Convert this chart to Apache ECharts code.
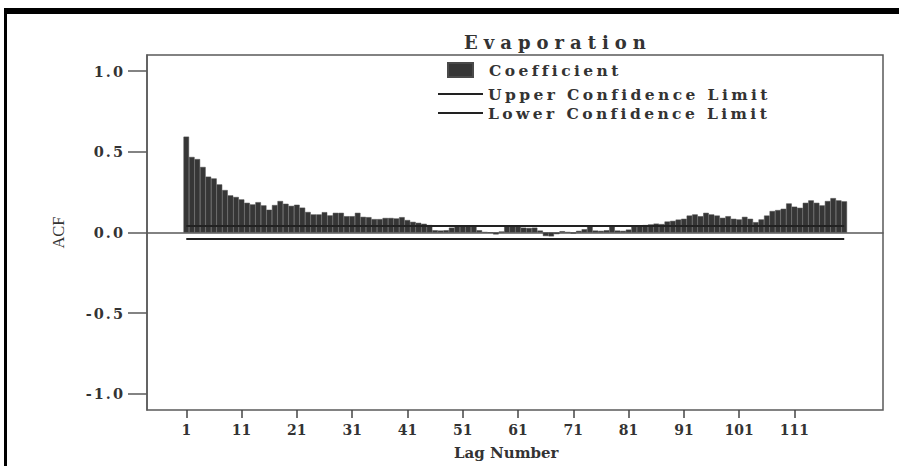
<!DOCTYPE html>
<html>
<head>
<meta charset="utf-8">
<script src="https://cdn.jsdelivr.net/npm/echarts@6/dist/echarts.min.js"></script>
<style>
html,body{margin:0;padding:0;background:#fff;}
#wrap{position:relative;width:899px;height:466px;overflow:hidden;}
#chart{position:absolute;left:0;top:0;width:899px;height:466px;}
#frame{position:absolute;left:4px;top:8px;right:0;bottom:-10px;border-top:6px solid #000;border-left:3px solid #000;pointer-events:none;}
#chart text[style*="18px"]{letter-spacing:6px;}
#chart text[style*="15.5px"]{letter-spacing:3.4px;}
#chart text[style*="14.5px"]{letter-spacing:2px;}
</style>
</head>
<body>
<div id="wrap">
  <div id="chart"></div>
  <div id="frame"></div>
</div>
<script>
// ---- data ----
const lags = ['1','2','3','4','5','6','7','8','9','10',
  '11','12','13','14','15','16','17','18','19','20',
  '21','22','23','24','25','26','27','28','29','30',
  '31','32','33','34','35','36','37','38','39','40',
  '41','42','43','44','45','46','47','48','49','50',
  '51','52','53','54','55','56','57','58','59','60',
  '61','62','63','64','65','66','67','68','69','70',
  '71','72','73','74','75','76','77','78','79','80',
  '81','82','83','84','85','86','87','88','89','90',
  '91','92','93','94','95','96','97','98','99','100',
  '101','102','103','104','105','106','107','108','109','110',
  '111','112','113','114','115','116','117','118','119','120'];

const acf = [
  0.594, 0.468, 0.455, 0.406, 0.346, 0.335, 0.298, 0.263, 0.230, 0.220,
  0.205, 0.184, 0.174, 0.188, 0.168, 0.141, 0.170, 0.195, 0.178, 0.165,
  0.172, 0.154, 0.127, 0.112, 0.112, 0.126, 0.106, 0.122, 0.122, 0.101,
  0.101, 0.122, 0.097, 0.095, 0.083, 0.083, 0.090, 0.090, 0.087, 0.095,
  0.077, 0.066, 0.060, 0.054, 0.046, 0.014, 0.012, 0.014, 0.030, 0.042,
  0.040, 0.044, 0.038, 0.014, 0.002, 0.000, -0.012, 0.006, 0.038, 0.042,
  0.036, 0.030, 0.028, 0.030, 0.012, -0.022, -0.024, -0.010, 0.008, 0.002,
  -0.006, 0.010, 0.020, 0.038, 0.012, 0.010, 0.014, 0.036, 0.012, 0.010,
  0.018, 0.036, 0.040, 0.046, 0.050, 0.055, 0.052, 0.068, 0.072, 0.080,
  0.085, 0.105, 0.112, 0.101, 0.122, 0.112, 0.105, 0.091, 0.101, 0.085,
  0.081, 0.097, 0.085, 0.064, 0.081, 0.105, 0.133, 0.139, 0.147, 0.180,
  0.160, 0.153, 0.184, 0.199, 0.184, 0.168, 0.195, 0.213, 0.199, 0.193];

const limitLags = ['1', '120'];
const upperLimit = [0.04, 0.04];
const lowerLimit = [-0.04, -0.04];
const yTicks = [-1, -0.5, 0, 0.5, 1];

// ---- chart ----
const serif = "'DejaVu Serif', serif";
const axisGray = '#5a5a5a';
const chart = echarts.init(document.getElementById('chart'), null, {renderer: 'svg', width: 899, height: 466});

const legendText = {fontFamily: serif, fontWeight: 'bold', fontSize: 15.5, color: '#333'};

chart.setOption({
  animation: false,
  title: {
    text: 'Evaporation', left: 558, top: 33, padding: 0, textAlign: 'center',
    textStyle: {fontFamily: serif, fontWeight: 'bold', fontSize: 18, color: '#333'}
  },
  legend: [
    {data: ['Coefficient'], left: 447, top: 62, padding: 0, itemWidth: 25, itemHeight: 14,
     icon: 'rect', selectedMode: false, textStyle: Object.assign({padding: [0, 0, 0, 11]}, legendText)},
    {data: ['Upper Confidence Limit'], left: 438, top: 86, padding: 0, itemWidth: 45, itemHeight: 2,
     icon: 'rect', selectedMode: false, textStyle: legendText},
    {data: ['Lower Confidence Limit'], left: 438, top: 105, padding: 0, itemWidth: 45, itemHeight: 2,
     icon: 'rect', selectedMode: false, textStyle: legendText}
  ],
  grid: [
    {left: 147, top: 55, width: 736, height: 355, show: true, borderColor: axisGray, borderWidth: 1.5, backgroundColor: 'transparent'},
    {left: 183.5, top: 55, width: 663.5, height: 355}
  ],
  xAxis: [
    {gridIndex: 0, type: 'value', min: 0, max: 1,
     axisLine: {show: true, onZero: true, lineStyle: {color: axisGray, width: 1.5}},
     axisTick: {show: false}, axisLabel: {show: false}, splitLine: {show: false}},
    {gridIndex: 1, type: 'category', data: lags, boundaryGap: true,
     name: 'Lag Number', nameLocation: 'middle', nameGap: 35,
     nameTextStyle: {fontFamily: serif, fontWeight: 'bold', fontSize: 15, color: '#333', padding: [0, 18, 0, 0]},
     axisLine: {show: false, onZero: false},
     axisTick: {show: true, interval: 9, alignWithLabel: true, length: 8, lineStyle: {color: '#444', width: 1.5}},
     axisLabel: {interval: 9, margin: 13, fontFamily: serif, fontWeight: 'bold', fontSize: 14, color: '#333'},
     splitLine: {show: false}}
  ],
  yAxis: [
    {gridIndex: 0, type: 'value', min: -1.1, max: 1.1,
     name: 'ACF', nameLocation: 'middle', nameGap: 80,
     nameTextStyle: {fontFamily: "'Liberation Serif', serif", fontSize: 16.5, color: '#333'},
     axisLine: {show: true, onZero: false, lineStyle: {color: axisGray, width: 1.5}},
     axisTick: {show: true, length: 19, customValues: yTicks, lineStyle: {color: axisGray, width: 1.5}},
     axisLabel: {customValues: yTicks, formatter: v => v.toFixed(1), margin: 22,
       fontFamily: serif, fontWeight: 'bold', fontSize: 14.5, color: '#333'},
     splitLine: {show: false}},
    {gridIndex: 1, type: 'value', min: -1.1, max: 1.1, show: false, splitLine: {show: false}}
  ],
  series: [
    {name: 'Coefficient', type: 'bar', xAxisIndex: 1, yAxisIndex: 1, data: acf,
     barCategoryGap: '0%', silent: true,
     itemStyle: {color: '#363636', borderColor: '#4a4a4a', borderWidth: 0.5}},
    {name: 'Upper Confidence Limit', type: 'line', xAxisIndex: 1, yAxisIndex: 1,
     data: limitLags.map((l, i) => [l, upperLimit[i]]), symbol: 'none', silent: true,
     lineStyle: {color: '#222', width: 2}, itemStyle: {color: '#222'}},
    {name: 'Lower Confidence Limit', type: 'line', xAxisIndex: 1, yAxisIndex: 1,
     data: limitLags.map((l, i) => [l, lowerLimit[i]]), symbol: 'none', silent: true,
     lineStyle: {color: '#222', width: 2}, itemStyle: {color: '#222'}}
  ]
});
</script>
</body>
</html>
